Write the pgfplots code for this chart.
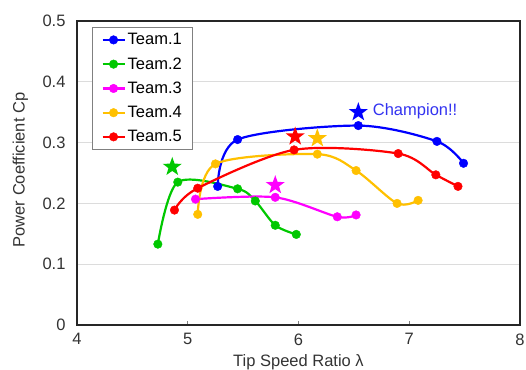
\documentclass[border=0pt]{standalone}
\usepackage{pgfplots}
\pgfplotsset{compat=1.18}
\usepackage{fontspec}
\setmainfont{Liberation Sans}

\definecolor{t1}{RGB}{0,0,255}
\definecolor{t2}{RGB}{0,200,0}
\definecolor{t3}{RGB}{255,0,255}
\definecolor{t4}{RGB}{255,192,0}
\definecolor{t5}{RGB}{255,0,0}
\definecolor{champ}{RGB}{51,51,240}
\definecolor{gridgray}{RGB}{220,220,220}

% filled five-pointed star
\pgfdeclareplotmark{fstar}{%
  \pgfpathmoveto{\pgfpointpolar{90}{\pgfplotmarksize}}%
  \pgfpathlineto{\pgfpointpolar{126}{0.4\pgfplotmarksize}}%
  \pgfpathlineto{\pgfpointpolar{162}{\pgfplotmarksize}}%
  \pgfpathlineto{\pgfpointpolar{198}{0.4\pgfplotmarksize}}%
  \pgfpathlineto{\pgfpointpolar{234}{\pgfplotmarksize}}%
  \pgfpathlineto{\pgfpointpolar{270}{0.4\pgfplotmarksize}}%
  \pgfpathlineto{\pgfpointpolar{306}{\pgfplotmarksize}}%
  \pgfpathlineto{\pgfpointpolar{342}{0.4\pgfplotmarksize}}%
  \pgfpathlineto{\pgfpointpolar{18}{\pgfplotmarksize}}%
  \pgfpathlineto{\pgfpointpolar{54}{0.4\pgfplotmarksize}}%
  \pgfpathclose
  \pgfusepathqfill}

\newcommand\chartfont{\fontsize{16.5}{19}\selectfont}

\begin{document}
\begin{tikzpicture}
\useasboundingbox (-77pt,-44pt) rectangle (449pt,325pt);
\begin{axis}[
  at={(0,0)}, anchor=south west,
  scale only axis, width=443pt, height=304pt,
  xmin=4, xmax=8, ymin=0, ymax=0.5,
  xtick={4,5,6,7,8},
  ytick={0,0.1,0.2,0.3,0.4,0.5},
  /pgf/number format/assume math mode=true,
  tick label style={font=\chartfont, text=black!80},
  label style={font=\chartfont, text=black!80},
  xlabel={Tip Speed Ratio λ},
  ylabel={Power Coefficient Cp},
  xlabel style={at={(axis description cs:0.5,-0.122)}, anchor=center},
  ylabel style={at={(axis description cs:-0.128,0.51)}, anchor=center, rotate=0},
  axis line style={black!85, line width=1.2pt},
  ymajorgrids, grid style={gridgray, line width=0.8pt},
  tick pos=bottom, tick align=inside,
  xtick style={gray, line width=0.6pt},
  ytick style={draw=none},
  major tick length=4pt,
  xticklabel style={yshift=-5pt},
  yticklabel style={xshift=-8pt},
  legend style={at={(axis description cs:0.034,0.98)}, anchor=north west,
    draw=gray, line width=0.8pt, fill=white,
    font=\chartfont, row sep=7.3pt,
    inner xsep=9pt, inner ysep=4pt},
  legend cell align=left,
  legend image code/.code={%
    \draw[mark repeat=2,mark phase=2] plot coordinates {(0pt,0pt) (11pt,0pt) (22pt,0pt)};},
  every axis plot/.append style={line width=2.2pt, smooth, mark=*,
    mark size=4.3pt, mark options={line width=0.4pt}},
]
\addplot[t1] coordinates {(5.27,0.228) (5.45,0.305) (6.54,0.328) (7.25,0.302) (7.49,0.266)};
\addlegendentry{Team.1}
\addplot[t2] coordinates {(4.73,0.133) (4.91,0.235) (5.45,0.224) (5.61,0.204) (5.79,0.164) (5.98,0.149)};
\addlegendentry{Team.2}
\addplot[t3] coordinates {(5.07,0.207) (5.79,0.210) (6.35,0.178) (6.52,0.181)};
\addlegendentry{Team.3}
\addplot[t4] coordinates {(5.09,0.182) (5.25,0.265) (6.17,0.281) (6.52,0.254) (6.89,0.200) (7.08,0.205)};
\addlegendentry{Team.4}
\addplot[t5] coordinates {(4.88,0.189) (5.09,0.225) (5.96,0.288) (6.90,0.282) (7.24,0.247) (7.44,0.228)};
\addlegendentry{Team.5}

% best point of each team
\addplot[forget plot, only marks, mark=fstar, mark size=10pt, t1] coordinates {(6.54,0.350)};
\addplot[forget plot, only marks, mark=fstar, mark size=10pt, t2] coordinates {(4.86,0.260)};
\addplot[forget plot, only marks, mark=fstar, mark size=10pt, t3] coordinates {(5.79,0.230)};
\addplot[forget plot, only marks, mark=fstar, mark size=10pt, t4] coordinates {(6.17,0.307)};
\addplot[forget plot, only marks, mark=fstar, mark size=10pt, t5] coordinates {(5.97,0.310)};

\node[anchor=west, text=champ, font=\chartfont, inner sep=0pt]
  at (axis cs:6.67,0.351) {Champion!!};
\end{axis}
\end{tikzpicture}
\end{document}
